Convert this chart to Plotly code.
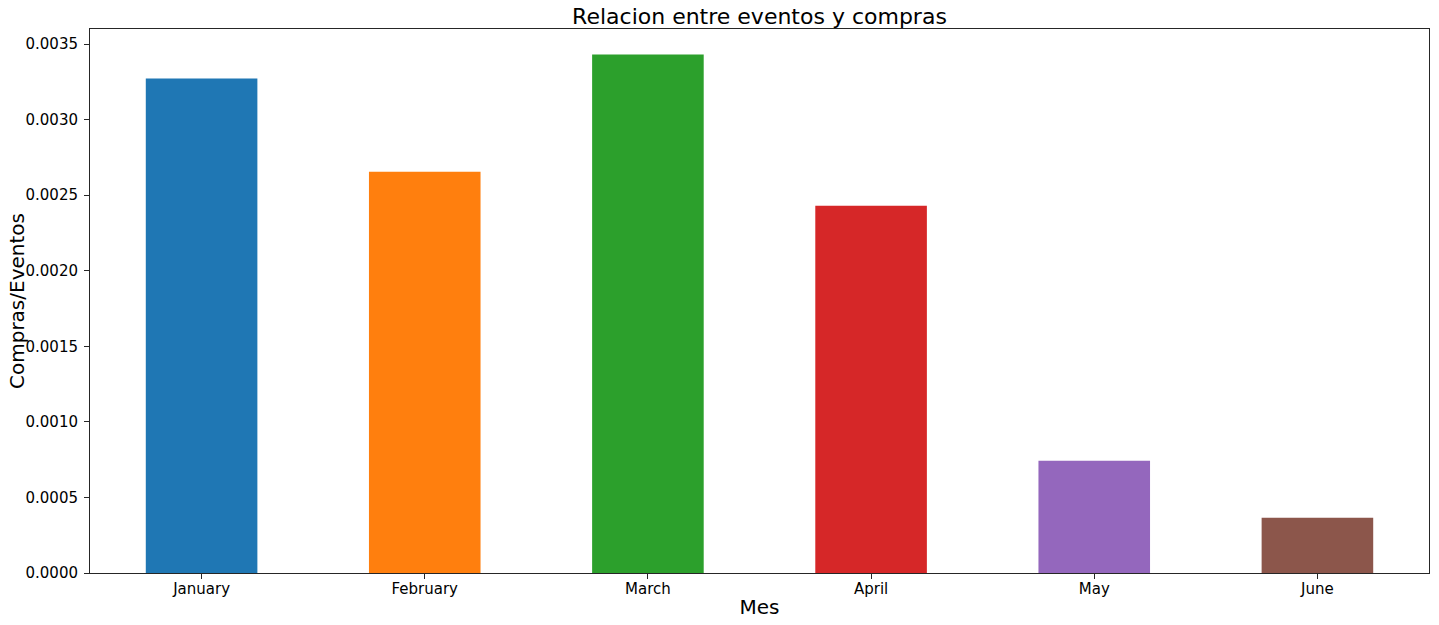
import plotly.graph_objects as go

# Datos
meses = ['January', 'February', 'March', 'April', 'May', 'June']
ratio = [0.003272, 0.002656, 0.003431, 0.002431, 0.000743, 0.000366]
colores = ['#1f77b4', '#ff7f0e', '#2ca02c', '#d62728', '#9467bd', '#8c564b']
y_ticks = [0.0, 0.0005, 0.0010, 0.0015, 0.0020, 0.0025, 0.0030, 0.0035]

fig = go.Figure(go.Bar(x=meses, y=ratio, marker_color=colores, marker_line_width=0, width=0.5,
                       hoverinfo='skip'))

axis_style = dict(showline=True, linecolor='#262626', linewidth=1, mirror=True,
                  ticks='outside', ticklen=5, tickcolor='#262626', showgrid=False,
                  zeroline=False, automargin=False,
                  tickfont=dict(family='DejaVu Sans', size=15, color='black'))

fig.update_xaxes(range=[-0.5, 5.5], ticklabelstandoff=-3,
                 title=dict(text='Mes', font=dict(family='DejaVu Sans', size=20, color='black'), standoff=2),
                 **axis_style)
fig.update_yaxes(range=[0, 0.0036], tickvals=y_ticks, tickformat='.4f', ticklabelstandoff=3,
                 **axis_style)

# titulo del eje y como anotacion (el standoff no lo mueve sin automargin)
fig.add_annotation(text='Compras/Eventos', textangle=-90, showarrow=False,
                   xref='paper', yref='paper', x=-73 / 1339, y=0.5, xanchor='center', yanchor='middle',
                   font=dict(family='DejaVu Sans', size=20, color='black'))

fig.update_layout(
    title=dict(text='Relacion entre eventos y compras', x=0.5, xref='paper', y=0.974, yref='container',
               yanchor='middle', font=dict(family='DejaVu Sans', size=22, color='black')),
    plot_bgcolor='white', paper_bgcolor='white',
    width=1439, height=625,
    margin=dict(l=90, r=10, t=29, b=52),
    showlegend=False,
)

# quitar el margen del body para que la figura quede en (0,0)
fig.write_html('out.html', config={'displayModeBar': False},
               post_script="document.body.style.margin='0';")
